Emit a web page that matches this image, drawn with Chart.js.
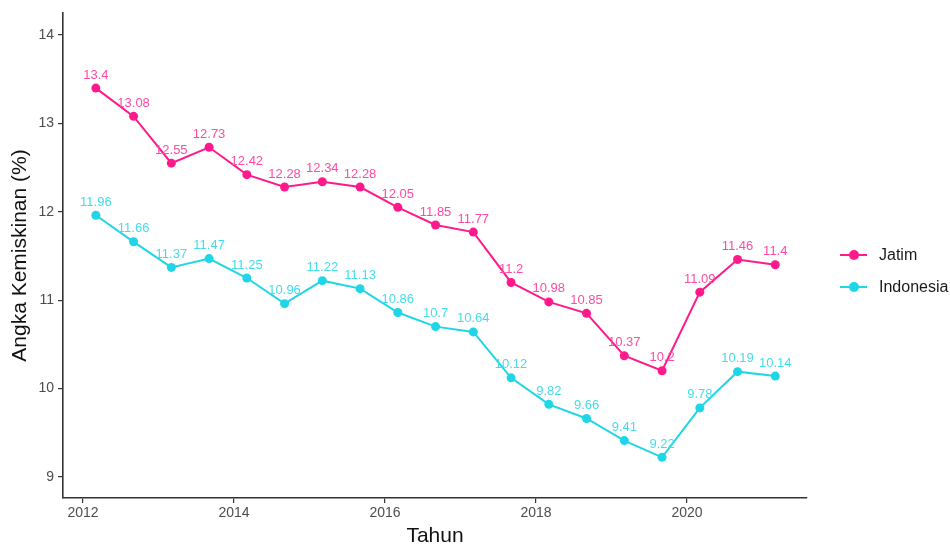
<!DOCTYPE html>
<html>
<head>
<meta charset="utf-8">
<script src="https://cdn.jsdelivr.net/npm/chart.js@4"></script>
<style>
  body { margin: 0; background: #fff; }
  #wrap { position: relative; width: 950px; height: 547px; }
  #legend { position: absolute; left: 840px; top: 242px; font-family: "Liberation Sans", Arial, sans-serif; font-size: 16px; color: #1a1a1a; }
  .item { position: relative; height: 32px; line-height: 26px; padding-left: 39px; }
  .item .ln { position: absolute; left: 0; top: 12px; width: 27px; height: 2px; }
  .item .dot { position: absolute; left: 9px; top: 8px; width: 10px; height: 10px; border-radius: 50%; }
</style>
</head>
<body>
<div id="wrap">
  <canvas id="chart" width="950" height="547"></canvas>
  <div id="legend"></div>
</div>
<script>
// semester points: March and September of each year, as decimal years
const tahun = [2012.17, 2012.67, 2013.17, 2013.67, 2014.17, 2014.67, 2015.17, 2015.67,
               2016.17, 2016.67, 2017.17, 2017.67, 2018.17, 2018.67, 2019.17, 2019.67,
               2020.17, 2020.67, 2021.17];
const jatim = [13.4, 13.08, 12.55, 12.73, 12.42, 12.28, 12.34, 12.28, 12.05, 11.85,
               11.77, 11.2, 10.98, 10.85, 10.37, 10.2, 11.09, 11.46, 11.4];
const indonesia = [11.96, 11.66, 11.37, 11.47, 11.25, 10.96, 11.22, 11.13, 10.86, 10.7,
                   10.64, 10.12, 9.82, 9.66, 9.41, 9.22, 9.78, 10.19, 10.14];
const xTicks = [2012, 2014, 2016, 2018, 2020];
const yTicks = [9, 10, 11, 12, 13, 14];

const seriesNames = ['Jatim', 'Indonesia'];
const colors = ['#ff1a8c', '#1fd6e6'];
const labelColors = ['#ff4aa3', '#45dcea'];

const FONT = '"Liberation Sans", Arial, sans-serif';

function toPoints(vals) {
  return vals.map((v, i) => ({ x: tahun[i], y: v }));
}

// draws value labels above every point
const valueLabels = {
  id: 'valueLabels',
  afterDatasetsDraw(chart) {
    const ctx = chart.ctx;
    ctx.save();
    ctx.font = '13px ' + FONT;
    ctx.textAlign = 'center';
    ctx.textBaseline = 'middle';
    chart.data.datasets.forEach((ds, di) => {
      const meta = chart.getDatasetMeta(di);
      ctx.fillStyle = labelColors[di];
      meta.data.forEach((pt, i) => {
        ctx.fillText(String(ds.data[i].y), pt.x, pt.y - 13);
      });
    });
    ctx.restore();
  }
};

const tickColor = '#4d4d4d';
const axisColor = '#333333';

new Chart(document.getElementById('chart'), {
  type: 'line',
  data: {
    datasets: [
      { label: seriesNames[0], data: toPoints(jatim), borderColor: colors[0], backgroundColor: colors[0],
        borderWidth: 2, pointRadius: 4.5, pointBorderWidth: 0, tension: 0 },
      { label: seriesNames[1], data: toPoints(indonesia), borderColor: colors[1], backgroundColor: colors[1],
        borderWidth: 2, pointRadius: 4.5, pointBorderWidth: 0, tension: 0 }
    ]
  },
  options: {
    responsive: false,
    animation: false,
    layout: { padding: { left: 0, right: 143, top: 13, bottom: 0 } },
    plugins: { legend: { display: false }, tooltip: { enabled: false } },
    scales: {
      x: {
        type: 'linear',
        min: 2011.735,
        max: 2021.59,
        afterBuildTicks: s => { s.ticks = xTicks.map(v => ({ value: v })); },
        afterFit: s => { s.height = 49; },
        ticks: { color: tickColor, font: { family: FONT, size: 14 }, padding: 2, callback: v => String(v) },
        grid: { drawOnChartArea: false, drawTicks: true, tickLength: 5, color: axisColor, lineWidth: 1.2 },
        border: { display: true, color: axisColor, width: 1.6 },
        title: { display: true, text: 'Tahun', color: '#111', font: { family: FONT, size: 21 }, padding: { top: 0, bottom: -2 } }
      },
      y: {
        min: 8.76,
        max: 14.25,
        afterBuildTicks: s => { s.ticks = yTicks.map(v => ({ value: v })); },
        afterFit: s => { s.width = 63; },
        ticks: { color: tickColor, font: { family: FONT, size: 14 }, padding: 4, callback: v => String(v) },
        grid: { drawOnChartArea: false, drawTicks: true, tickLength: 5, color: axisColor, lineWidth: 1.2 },
        border: { display: true, color: axisColor, width: 1.6 },
        title: { display: true, text: 'Angka Kemiskinan (%)', color: '#111', font: { family: FONT, size: 21 }, padding: { top: 8, bottom: 0 } }
      }
    }
  },
  plugins: [valueLabels]
});

// legend on the right, line + dot like ggplot
const legend = document.getElementById('legend');
seriesNames.forEach((name, i) => {
  legend.innerHTML += `<div class="item"><span class="ln" style="background:${colors[i]}"></span>` +
    `<span class="dot" style="background:${colors[i]}"></span>${name}</div>`;
});
</script>
</body>
</html>
